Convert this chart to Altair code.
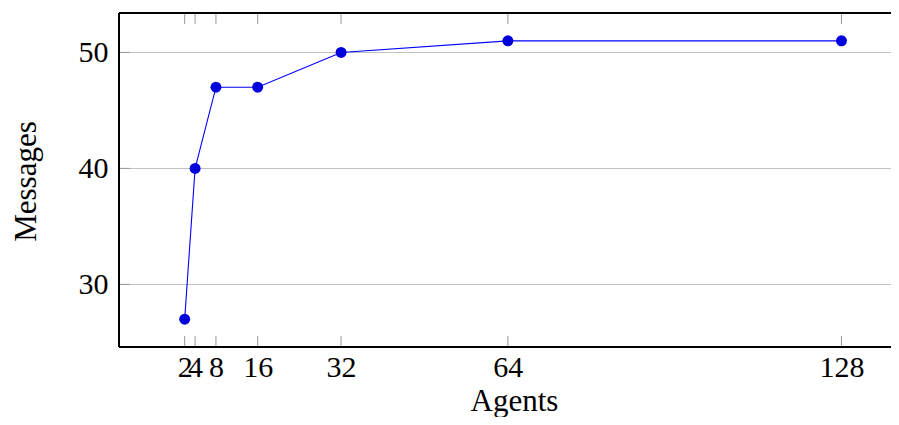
import altair as alt
import pandas as pd

agents = [2, 4, 8, 16, 32, 64, 128]
messages = [27, 40, 47, 47, 50, 51, 51]
x_ticks = [2, 4, 8, 16, 32, 64, 128]
y_ticks = [30, 40, 50]

df = pd.DataFrame({"Agents": agents, "Messages": messages})
xt = pd.DataFrame({"t": x_ticks})
yt = pd.DataFrame({"t": y_ticks})

FONT = "Liberation Serif"
W, H = 772, 334
xs = alt.Scale(domain=[-10.6, 137.5], nice=False, zero=False)
ys = alt.Scale(domain=[24.6, 53.4], nice=False, zero=False)

base = alt.Chart(df)

line = base.mark_line(color="#0000ff", strokeWidth=1.1).encode(
    x=alt.X("Agents:Q", scale=xs,
            axis=alt.Axis(values=x_ticks, ticks=False, domain=False, grid=False,
                          labelOverlap=False, labelFontSize=30, labelFont=FONT,
                          labelColor="black", labelPadding=5, labelFlush=False,
                          title="Agents", titleFont=FONT, titleFontSize=31,
                          titleFontWeight="normal", titleColor="black",
                          titleY=63, titleBaseline="alphabetic", titleX=395)),
    y=alt.Y("Messages:Q", scale=ys,
            axis=alt.Axis(values=y_ticks, ticks=False, domain=False, grid=True,
                          gridColor="#c0c0c0", gridWidth=1,
                          labelFontSize=30, labelFont=FONT, labelColor="black",
                          labelPadding=11,
                          title="Messages", titleFont=FONT, titleFontSize=31,
                          titleFontWeight="normal", titleColor="black",
                          titleX=-93, titleY=168, titleAngle=270,
                          titleAlign="center", titleBaseline="middle")),
)

points = base.mark_point(filled=True, color="#0000dd", size=120, opacity=1).encode(
    x=alt.X("Agents:Q", scale=xs), y=alt.Y("Messages:Q", scale=ys)
)

xtick_bot = alt.Chart(xt).mark_rule(color="#999999", strokeWidth=1).encode(
    x=alt.X("t:Q", scale=xs), y=alt.value(H - 11), y2=alt.value(H)
)
xtick_top = alt.Chart(xt).mark_rule(color="#999999", strokeWidth=1).encode(
    x=alt.X("t:Q", scale=xs), y=alt.value(0), y2=alt.value(11)
)
ytick_left = alt.Chart(yt).mark_rule(color="#999999", strokeWidth=1).encode(
    y=alt.Y("t:Q", scale=ys), x=alt.value(0), x2=alt.value(11)
)

frame_left = alt.Chart(xt).mark_rule(color="black", strokeWidth=1.2).encode(
    x=alt.value(0), y=alt.value(0), y2=alt.value(H)
)
frame_top = alt.Chart(xt).mark_rule(color="black", strokeWidth=1.2).encode(
    x=alt.value(0), x2=alt.value(W), y=alt.value(0)
)
frame_bot = alt.Chart(xt).mark_rule(color="black", strokeWidth=1.2).encode(
    x=alt.value(0), x2=alt.value(W), y=alt.value(H)
)

chart = alt.layer(xtick_bot, xtick_top, ytick_left, frame_left, frame_top, frame_bot,
                  line, points).properties(
    width=W, height=H,
    padding={"left": 111, "top": 5, "right": 0, "bottom": 70},
    autosize="none",
).configure_view(stroke=None)

chart.save("out.html", embed_options={"renderer": "svg", "actions": False})
